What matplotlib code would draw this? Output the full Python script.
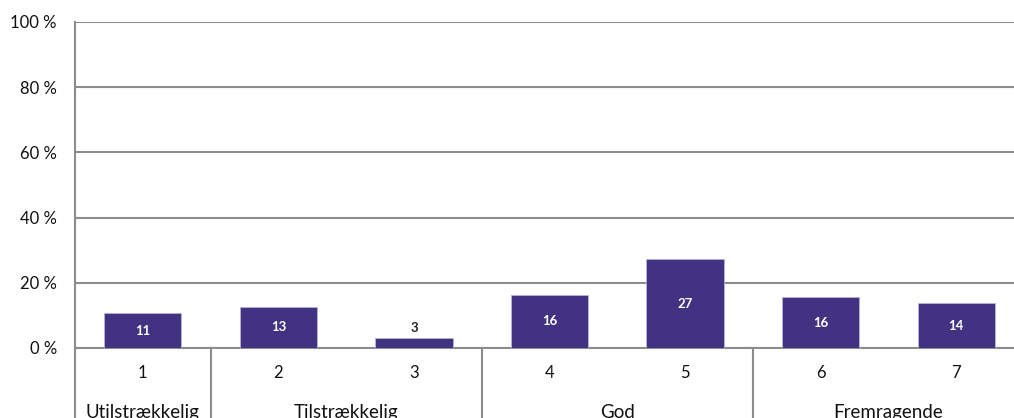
import matplotlib
matplotlib.use("Agg")
import matplotlib.pyplot as plt
from matplotlib.ticker import FuncFormatter

plt.rcParams["font.family"] = ["Lato", "DejaVu Sans"]

# data
scores = ["1", "2", "3", "4", "5", "6", "7"]
shares = [10.7, 12.6, 3.1, 16.3, 27.3, 15.6, 13.8]
labels = ["11", "13", "3", "16", "27", "16", "14"]
groups = ["Utilstrækkelig", "Tilstrækkelig", "God", "Fremragende"]
group_spans = [(0, 0), (1, 2), (3, 4), (5, 6)]

BAR_COLOR = "#413381"
GRID_COLOR = "#8c8c8c"

W, H = 1014, 418
fig = plt.figure(figsize=(W / 100, H / 100), dpi=100)
# the plot area runs past the right edge of the picture, as in the reference
ax = fig.add_axes([75 / W, (H - 348) / H, (1024 - 75) / W, (348 - 22) / H])

x = list(range(len(scores)))
bars = ax.bar(x, shares, width=0.57, color=BAR_COLOR, edgecolor="#b9b2d9",
              linewidth=0.6, zorder=3)

for xi, val, lab in zip(x, shares, labels):
    if val < 6:
        ax.text(xi, val + 1.3, lab, ha="center", va="bottom", fontsize=9.5,
                fontweight="bold", color="#222222", zorder=4)
    else:
        ax.text(xi, val / 2, lab, ha="center", va="center", fontsize=9.5,
                fontweight="bold", color="white", zorder=4)

ax.set_xlim(-0.5, len(scores) - 0.5)
ax.set_ylim(0, 100)
ax.set_yticks(range(0, 101, 20))
ax.yaxis.set_major_formatter(FuncFormatter(lambda v, _: f"{int(v)} %"))
ax.tick_params(axis="y", length=0, pad=13, labelsize=12, colors="#111111")
ax.set_xticks([])
ax.grid(axis="y", color=GRID_COLOR, linewidth=1.5, zorder=0)

for side in ["top", "right"]:
    ax.spines[side].set_visible(False)
ax.spines["left"].set_color(GRID_COLOR)
ax.spines["left"].set_linewidth(1.5)
ax.spines["bottom"].set_color(GRID_COLOR)
ax.spines["bottom"].set_linewidth(1.5)

# category axis: score numbers, then group names with separators
tr = ax.get_xaxis_transform()
for xi, s in zip(x, scores):
    ax.text(xi, -0.077, s, transform=tr, ha="center", va="center",
            fontsize=12, color="#111111", clip_on=False)

for name, (a, b) in zip(groups, group_spans):
    ax.text((a + b) / 2, -0.197, name, transform=tr, ha="center", va="center",
            fontsize=13.5, color="#111111", clip_on=False)
    ax.plot([a - 0.5, a - 0.5], [0, -0.3], transform=tr, color=GRID_COLOR,
            linewidth=1.5, clip_on=False)

fig.savefig("out.png", dpi=100)
